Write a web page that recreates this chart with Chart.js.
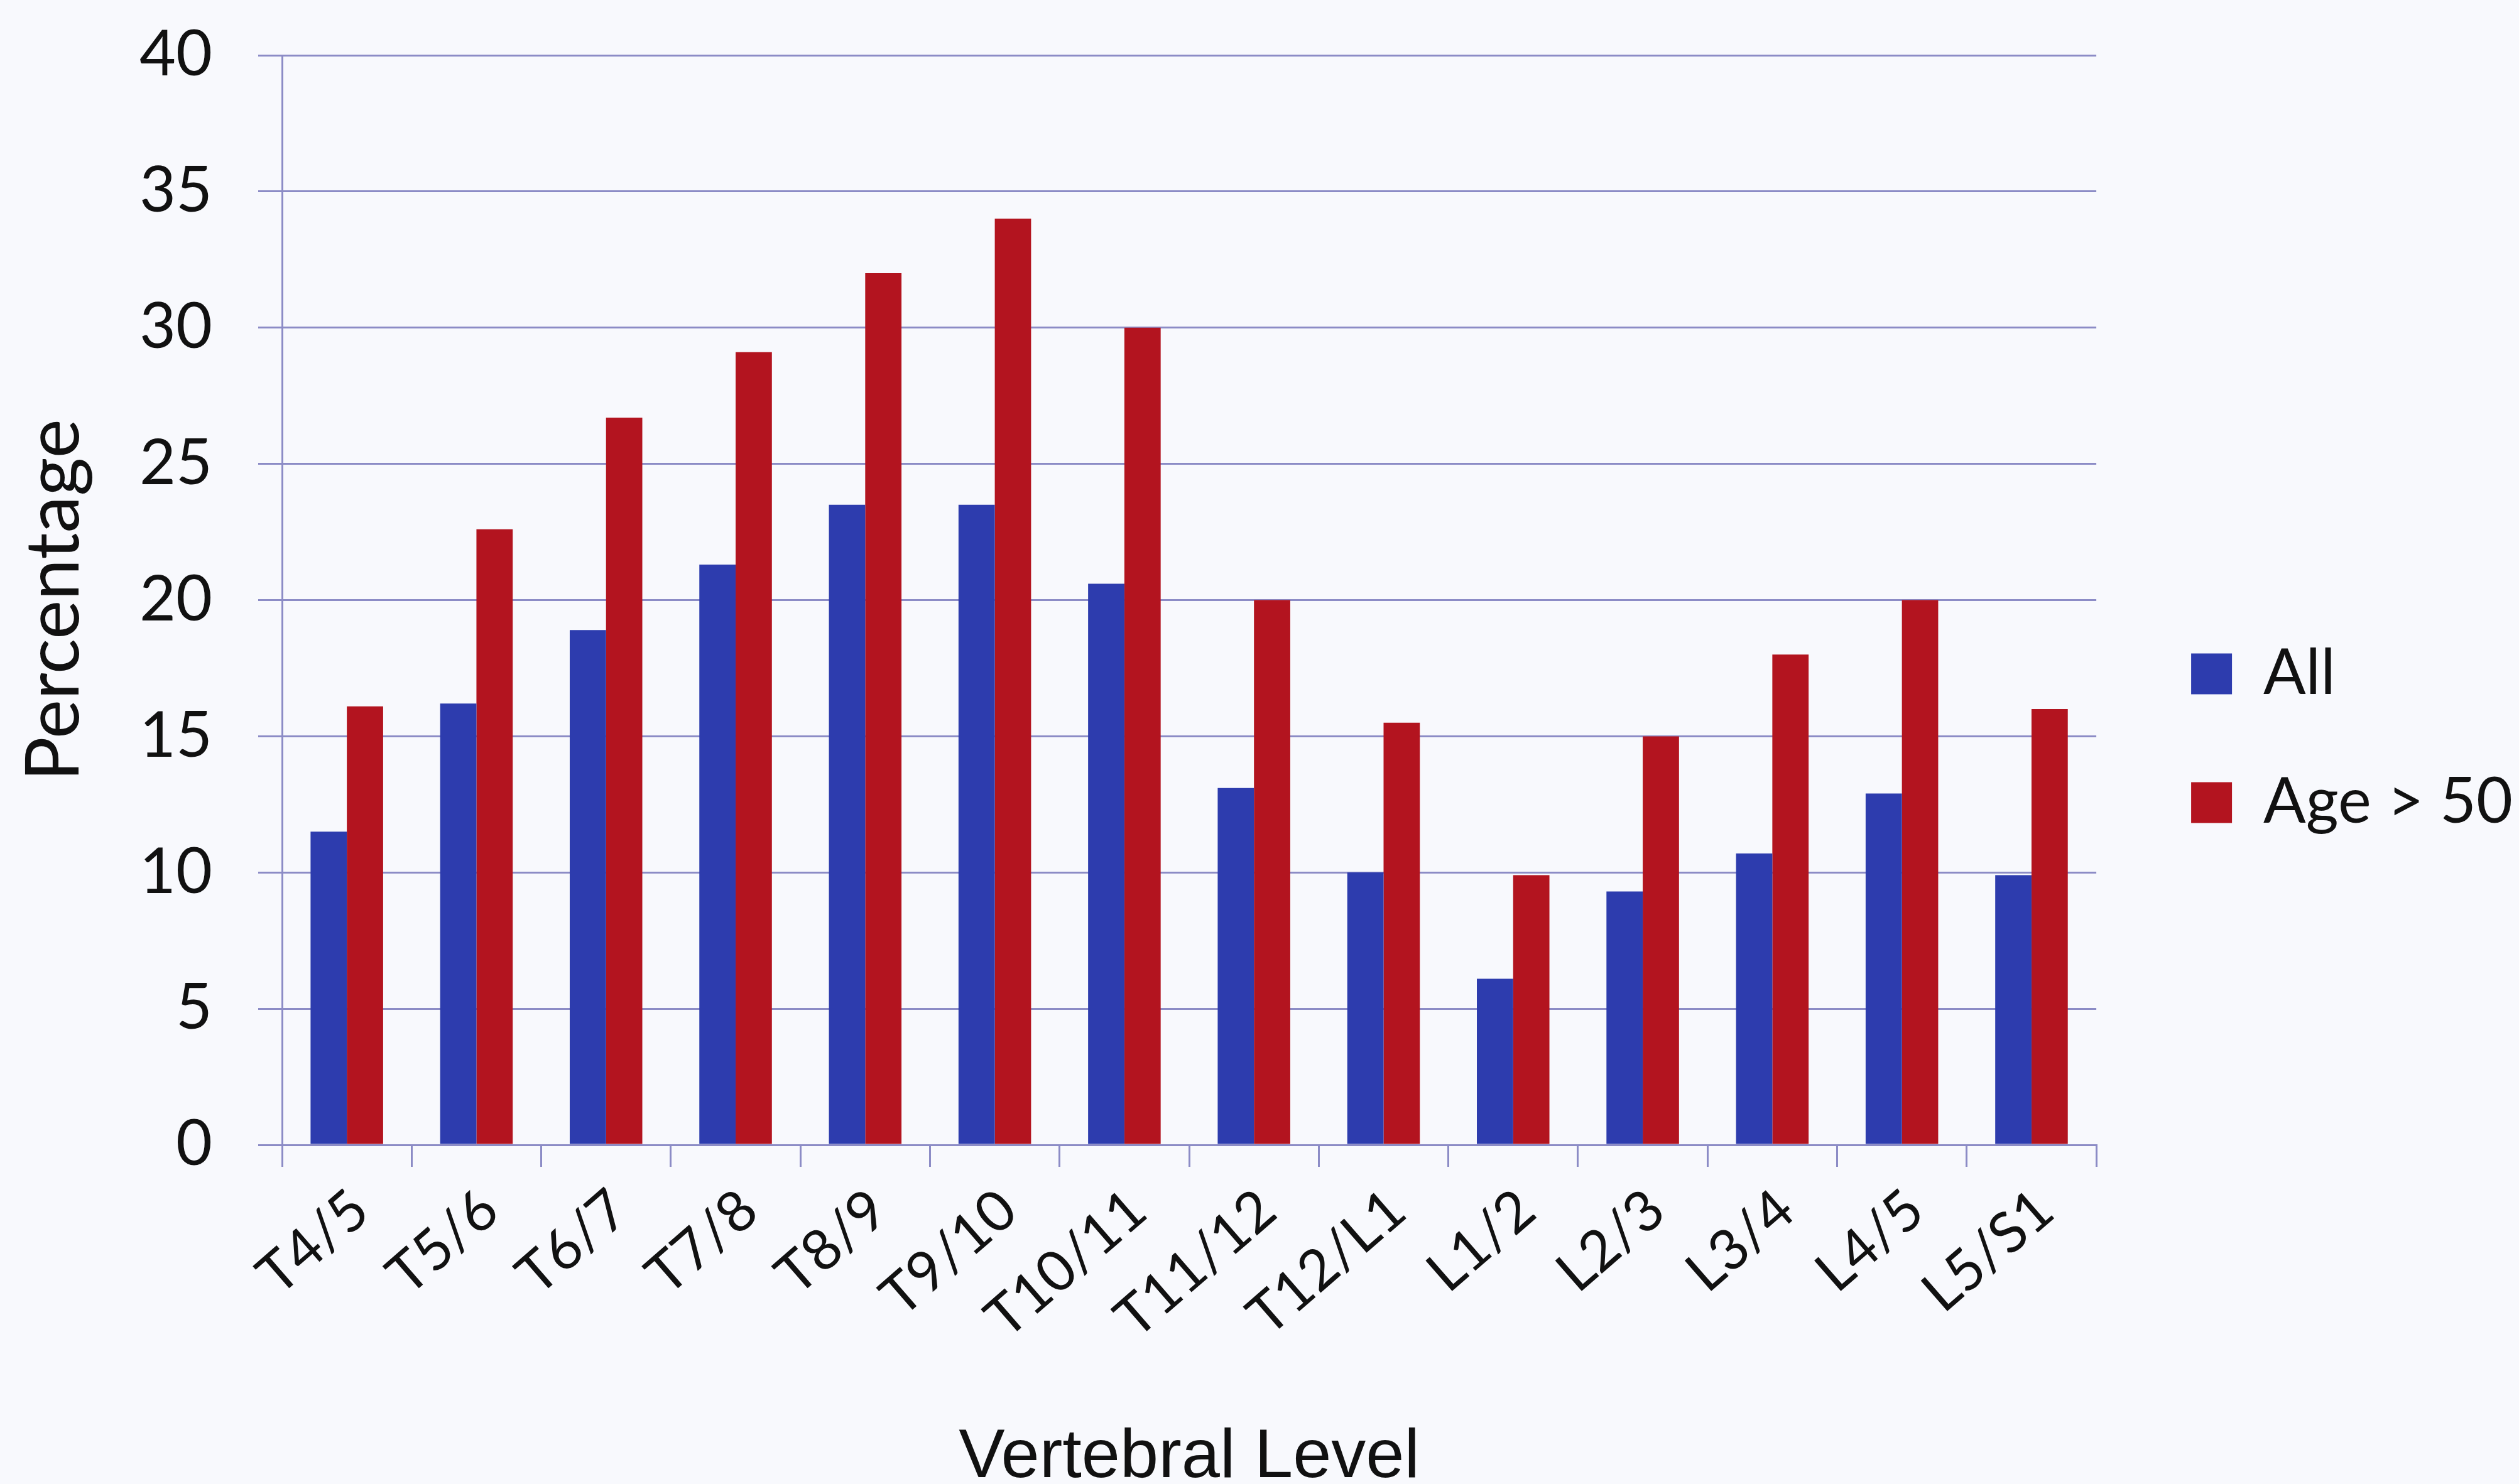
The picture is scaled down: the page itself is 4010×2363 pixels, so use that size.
<!DOCTYPE html>
<html>
<head>
<meta charset="utf-8">
<title>Vertebral Level</title>
<script src="https://cdn.jsdelivr.net/npm/chart.js@4.4.1/dist/chart.umd.min.js"></script>
<style>
  html, body { margin: 0; padding: 0; background: #f8f9fd; }
  #wrap { width: 4010px; height: 2363px; position: relative; }
</style>
</head>
<body>
<div id="wrap"><canvas id="chart"></canvas></div>
<script>
// niveles vertebrales (eje x)
const levels = ['T4/5', 'T5/6', 'T6/7', 'T7/8', 'T8/9', 'T9/10', 'T10/11', 'T11/12', 'T12/L1', 'L1/2', 'L2/3', 'L3/4', 'L4/5', 'L5/S1'];

// porcentajes
const allValues = [11.5, 16.2, 18.9, 21.3, 23.5, 23.5, 20.6, 13.1, 10.0, 6.1, 9.3, 10.7, 12.9, 9.9];
const ageOver50Values = [16.1, 22.6, 26.7, 29.1, 32.0, 34.0, 30.0, 20.0, 15.5, 9.9, 15.0, 18.0, 20.0, 16.0];

const seriesNames = ['All', 'Age > 50'];

// eje y
const yMin = 0;
const yMax = 40;
const yStep = 5;

const gridColor = '#8c8cc6';
const textColor = '#111111';

Chart.defaults.font.family = 'Lato';
Chart.defaults.color = textColor;

const ctx = document.getElementById('chart');

new Chart(ctx, {
    type: 'bar',
    data: {
        labels: levels,
        datasets: [{
            label: seriesNames[0],
            data: allValues,
            backgroundColor: '#2d3cae',
            borderWidth: 0,
            barPercentage: 1.0,
            categoryPercentage: 0.56
        }, {
            label: seriesNames[1],
            data: ageOver50Values,
            backgroundColor: '#b3141f',
            borderWidth: 0,
            barPercentage: 1.0,
            categoryPercentage: 0.56
        }]
    },
    options: {
        responsive: true,
        maintainAspectRatio: false,
        devicePixelRatio: 1,
        animation: false,
        layout: {
            padding: { top: 88, left: 0, right: 0, bottom: 0 }
        },
        plugins: {
            legend: {
                position: 'right',
                align: 'start',
                // titulo vacio: solo baja las entradas de la leyenda
                title: {
                    display: true,
                    text: ' ',
                    font: { size: 10 },
                    padding: { top: 818, bottom: 0 }
                },
                labels: {
                    boxWidth: 65,
                    boxHeight: 65,
                    padding: 105,
                    color: textColor,
                    font: { family: 'Lato', size: 100 }
                }
            },
            tooltip: { enabled: false }
        },
        scales: {
            x: {
                offset: true,
                grid: {
                    display: true,
                    drawOnChartArea: false,
                    drawTicks: true,
                    tickLength: 35,
                    color: gridColor,
                    lineWidth: 3
                },
                border: { display: true, color: gridColor, width: 3 },
                ticks: {
                    autoSkip: false,
                    minRotation: 41,
                    maxRotation: 41,
                    padding: 15,
                    labelOffset: 22,
                    color: textColor,
                    font: { family: 'Lato', size: 90 }
                },
                title: {
                    display: true,
                    text: 'Vertebral Level',
                    color: textColor,
                    font: { family: 'Liberation Sans', size: 110 },
                    padding: { top: 0, bottom: -25 }
                },
                afterFit: (scale) => { scale.height = 540; }
            },
            y: {
                min: yMin,
                max: yMax,
                ticks: {
                    stepSize: yStep,
                    padding: 73,
                    color: textColor,
                    font: { family: 'Lato', size: 100 }
                },
                grid: {
                    color: gridColor,
                    lineWidth: 3,
                    drawTicks: true,
                    tickLength: 38
                },
                border: { display: true, color: gridColor, width: 3 },
                title: {
                    display: true,
                    text: 'Percentage',
                    color: textColor,
                    font: { family: 'Lato', size: 118 },
                    padding: { top: 16, bottom: 0 }
                },
                afterFit: (scale) => {
                    scale.width = 449;
                    // el padding de las etiquetas no debe empujar el area del grafico
                    scale.paddingTop = 0;
                    scale.paddingBottom = 0;
                }
            },
            // eje vacio a la derecha, solo deja hueco entre el grafico y la leyenda
            gap: {
                position: 'right',
                type: 'linear',
                grid: { display: false },
                border: { display: false },
                ticks: { display: false },
                afterFit: (scale) => { scale.width = 46; }
            }
        }
    }
});
</script>
</body>
</html>
